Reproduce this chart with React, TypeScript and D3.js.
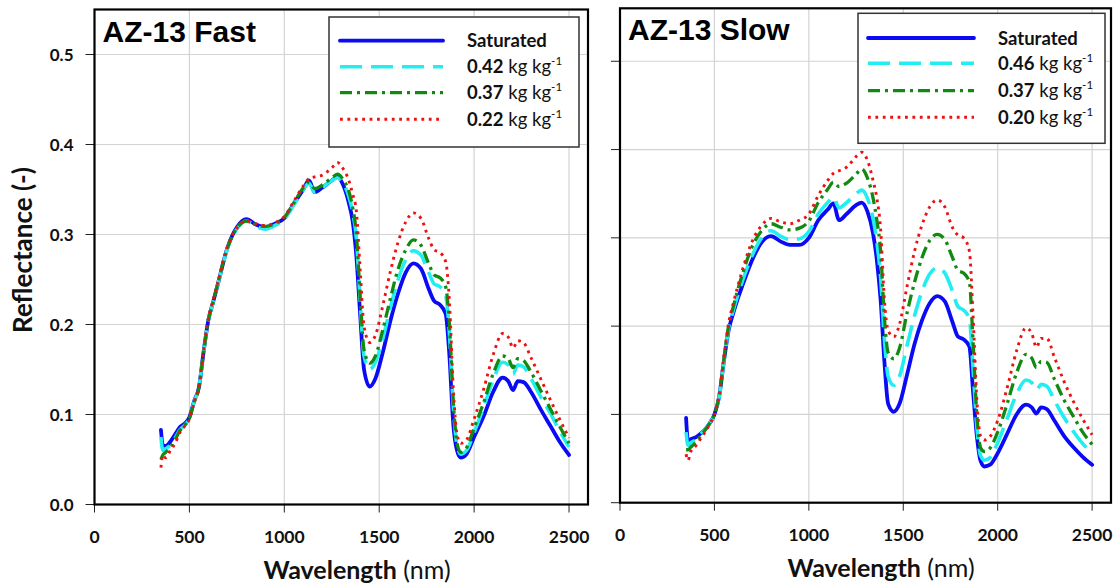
import React from "react";
import * as d3 from "d3";

const WAVELENGTHS = [350, 360, 375, 400, 425, 450, 475, 500, 525, 550, 575, 600, 625, 650, 700, 750, 800, 850, 900, 950, 1000, 1050, 1100, 1130, 1160, 1200, 1250, 1280, 1310, 1340, 1360, 1380, 1400, 1420, 1450, 1480, 1520, 1560, 1600, 1640, 1680, 1720, 1760, 1790, 1820, 1850, 1870, 1890, 1910, 1930, 1960, 2000, 2050, 2100, 2150, 2180, 2205, 2230, 2260, 2300, 2350, 2400, 2450, 2500];

const FAST_SATURATED = [0.083, 0.066, 0.065, 0.070, 0.078, 0.086, 0.090, 0.097, 0.115, 0.130, 0.170, 0.205, 0.225, 0.245, 0.285, 0.308, 0.317, 0.311, 0.308, 0.312, 0.318, 0.334, 0.350, 0.360, 0.347, 0.352, 0.360, 0.364, 0.355, 0.335, 0.315, 0.275, 0.210, 0.150, 0.131, 0.140, 0.170, 0.205, 0.235, 0.258, 0.268, 0.262, 0.240, 0.226, 0.222, 0.212, 0.165, 0.090, 0.060, 0.052, 0.056, 0.075, 0.098, 0.125, 0.141, 0.137, 0.127, 0.137, 0.136, 0.125, 0.106, 0.088, 0.070, 0.055];
const FAST_042 = [0.075, 0.060, 0.062, 0.066, 0.074, 0.083, 0.088, 0.096, 0.114, 0.130, 0.170, 0.205, 0.225, 0.245, 0.284, 0.306, 0.315, 0.309, 0.306, 0.310, 0.317, 0.333, 0.350, 0.357, 0.347, 0.352, 0.360, 0.363, 0.357, 0.342, 0.325, 0.295, 0.225, 0.165, 0.150, 0.158, 0.185, 0.220, 0.250, 0.272, 0.282, 0.277, 0.258, 0.245, 0.242, 0.232, 0.190, 0.110, 0.066, 0.056, 0.060, 0.080, 0.108, 0.138, 0.158, 0.155, 0.145, 0.155, 0.153, 0.140, 0.120, 0.102, 0.082, 0.064];
const FAST_037 = [0.050, 0.055, 0.058, 0.064, 0.072, 0.082, 0.088, 0.096, 0.114, 0.130, 0.170, 0.205, 0.225, 0.246, 0.285, 0.307, 0.315, 0.311, 0.309, 0.312, 0.319, 0.335, 0.352, 0.358, 0.351, 0.355, 0.363, 0.367, 0.361, 0.348, 0.330, 0.300, 0.230, 0.172, 0.157, 0.165, 0.195, 0.230, 0.262, 0.283, 0.294, 0.288, 0.268, 0.255, 0.252, 0.242, 0.200, 0.115, 0.068, 0.058, 0.063, 0.085, 0.113, 0.145, 0.165, 0.162, 0.152, 0.162, 0.160, 0.147, 0.127, 0.107, 0.087, 0.068];
const FAST_022 = [0.041, 0.055, 0.052, 0.060, 0.068, 0.080, 0.087, 0.095, 0.113, 0.130, 0.172, 0.207, 0.227, 0.247, 0.286, 0.307, 0.315, 0.312, 0.310, 0.313, 0.320, 0.337, 0.354, 0.362, 0.364, 0.366, 0.374, 0.380, 0.373, 0.360, 0.345, 0.325, 0.260, 0.198, 0.180, 0.188, 0.222, 0.260, 0.292, 0.314, 0.324, 0.318, 0.296, 0.283, 0.280, 0.270, 0.225, 0.130, 0.078, 0.068, 0.072, 0.095, 0.128, 0.166, 0.190, 0.186, 0.174, 0.182, 0.180, 0.163, 0.140, 0.117, 0.095, 0.074];

const SLOW_SATURATED = [0.096, 0.070, 0.072, 0.074, 0.078, 0.083, 0.090, 0.100, 0.120, 0.160, 0.195, 0.215, 0.232, 0.247, 0.275, 0.295, 0.302, 0.296, 0.292, 0.292, 0.300, 0.320, 0.332, 0.339, 0.320, 0.327, 0.337, 0.340, 0.330, 0.305, 0.275, 0.230, 0.160, 0.112, 0.103, 0.112, 0.145, 0.180, 0.207, 0.226, 0.234, 0.228, 0.205, 0.188, 0.185, 0.177, 0.125, 0.075, 0.047, 0.041, 0.043, 0.056, 0.078, 0.100, 0.111, 0.108, 0.101, 0.108, 0.106, 0.093, 0.076, 0.063, 0.052, 0.043];
const SLOW_046 = [0.080, 0.065, 0.068, 0.071, 0.077, 0.083, 0.090, 0.100, 0.120, 0.160, 0.197, 0.218, 0.236, 0.252, 0.280, 0.300, 0.308, 0.302, 0.298, 0.299, 0.307, 0.327, 0.340, 0.346, 0.334, 0.340, 0.350, 0.354, 0.345, 0.322, 0.295, 0.255, 0.185, 0.143, 0.133, 0.143, 0.178, 0.212, 0.240, 0.259, 0.266, 0.260, 0.240, 0.222, 0.218, 0.208, 0.150, 0.085, 0.053, 0.048, 0.051, 0.068, 0.095, 0.123, 0.139, 0.136, 0.128, 0.134, 0.132, 0.116, 0.097, 0.081, 0.067, 0.056];
const SLOW_037 = [0.060, 0.060, 0.063, 0.068, 0.075, 0.082, 0.090, 0.100, 0.121, 0.162, 0.200, 0.222, 0.242, 0.260, 0.290, 0.308, 0.316, 0.312, 0.309, 0.311, 0.319, 0.340, 0.355, 0.363, 0.358, 0.362, 0.372, 0.378, 0.368, 0.345, 0.320, 0.285, 0.210, 0.170, 0.163, 0.175, 0.215, 0.250, 0.278, 0.297, 0.304, 0.298, 0.278, 0.263, 0.260, 0.250, 0.180, 0.098, 0.062, 0.058, 0.062, 0.080, 0.112, 0.147, 0.168, 0.164, 0.153, 0.160, 0.159, 0.140, 0.117, 0.098, 0.080, 0.066];
const SLOW_020 = [0.055, 0.048, 0.058, 0.064, 0.072, 0.080, 0.089, 0.100, 0.122, 0.165, 0.203, 0.226, 0.246, 0.265, 0.296, 0.314, 0.322, 0.318, 0.316, 0.320, 0.327, 0.348, 0.365, 0.373, 0.376, 0.380, 0.392, 0.397, 0.388, 0.365, 0.345, 0.310, 0.230, 0.195, 0.188, 0.202, 0.245, 0.285, 0.315, 0.335, 0.343, 0.335, 0.312, 0.303, 0.300, 0.285, 0.210, 0.115, 0.075, 0.071, 0.075, 0.093, 0.130, 0.172, 0.198, 0.192, 0.176, 0.186, 0.186, 0.165, 0.138, 0.115, 0.095, 0.077];

const X_TICKS = [0, 500, 1000, 1500, 2000, 2500];
const Y_TICKS = [0, 0.1, 0.2, 0.3, 0.4, 0.5];
const FAST_LABELS = ["Saturated", "0.42", "0.37", "0.22"];
const SLOW_LABELS = ["Saturated", "0.46", "0.37", "0.20"];

const STYLES = [
  { color: "#0a0af5", width: 3.8, dash: null, cap: "round" },
  { color: "#22eef2", width: 3.6, dash: "22,9", cap: "butt" },
  { color: "#128a12", width: 3.3, dash: "12,5,3,5", cap: "butt" },
  { color: "#f01010", width: 2.9, dash: "2.8,4.6", cap: "butt" },
];

const LABEL_FONT = "Lato, 'Open Sans', sans-serif";
const TITLE_FONT = "'Liberation Sans', Arial, sans-serif";

function Panel(props) {
  const { left, right, top, bottom, yMax, title, series, labels, showYLabels, legend, xLabelCx, clipId } = props;
  const x = d3.scaleLinear().domain([0, 2600]).range([left, right]);
  const y = d3.scaleLinear().domain([0, yMax]).range([bottom, top]);
  const line = d3
    .line()
    .x((d) => x(d[0]))
    .y((d) => y(d[1]))
    .curve(d3.curveMonotoneX);

  return (
    <g>
      <defs>
        <clipPath id={clipId}>
          <rect x={left} y={top} width={right - left} height={bottom - top} />
        </clipPath>
      </defs>
      {X_TICKS.filter((t) => t > 0).map((t) => (
        <line key={"gx" + t} x1={x(t)} x2={x(t)} y1={top} y2={bottom} stroke="#d3d3d3" strokeWidth={1.2} />
      ))}
      {Y_TICKS.filter((t) => t > 0).map((t) => (
        <line key={"gy" + t} x1={left} x2={right} y1={y(t)} y2={y(t)} stroke="#d3d3d3" strokeWidth={1.2} />
      ))}
      {X_TICKS.map((t) => (
        <line key={"tx" + t} x1={x(t)} x2={x(t)} y1={bottom} y2={bottom + 8} stroke="#222" strokeWidth={1} />
      ))}
      {Y_TICKS.map((t) => (
        <line key={"ty" + t} x1={left - 9} x2={left} y1={y(t)} y2={y(t)} stroke="#222" strokeWidth={1} />
      ))}
      {X_TICKS.map((t) => (
        <text key={"lx" + t} x={x(t)} y={bottom + 38} textAnchor="middle" fontFamily={LABEL_FONT} fontWeight="bold" fontSize={17.5} fill="#111">
          {t}
        </text>
      ))}
      {showYLabels &&
        Y_TICKS.map((t) => (
          <text key={"ly" + t} x={left - 21} y={y(t) + 6} textAnchor="end" fontFamily={LABEL_FONT} fontWeight="bold" fontSize={17} fill="#111">
            {t.toFixed(1)}
          </text>
        ))}
      <g clipPath={`url(#${clipId})`}>
        {series.map((vals, i) => {
          const data = WAVELENGTHS.map((w, j) => [w, vals[j]]);
          const s = STYLES[i];
          return (
            <path
              key={"s" + i}
              d={line(data)}
              fill="none"
              stroke={s.color}
              strokeWidth={s.width}
              strokeDasharray={s.dash || undefined}
              strokeLinecap={s.cap}
              strokeLinejoin="round"
            />
          );
        })}
      </g>
      <rect x={left} y={top} width={right - left} height={bottom - top} fill="none" stroke="#000" strokeWidth={2.2} />
      <text x={left + 8} y={top + 32} fontFamily={TITLE_FONT} fontWeight="bold" fontSize={30} fill="#000">
        {title}
      </text>
      <rect x={legend.x0} y={legend.y0} width={legend.x1 - legend.x0} height={legend.y1 - legend.y0} fill="#fff" stroke="#333" strokeWidth={1.5} />
      {labels.map((lab, i) => {
        const ry = legend.rows[i];
        const s = STYLES[i];
        return (
          <g key={"lg" + i}>
            <line x1={legend.lx0} x2={legend.lx1} y1={ry} y2={ry} stroke={s.color} strokeWidth={s.width} strokeDasharray={s.dash || undefined} strokeLinecap={s.cap} />
            <text x={legend.tx} y={ry + 6.5} fontFamily={LABEL_FONT} fontSize={18.5} fill="#111">
              {i === 0 ? (
                <tspan fontWeight="bold">{lab}</tspan>
              ) : (
                <>
                  <tspan fontWeight="bold">{lab}</tspan>
                  <tspan> kg kg</tspan>
                  <tspan dy={-8} fontSize={11.5}>-1</tspan>
                </>
              )}
            </text>
          </g>
        );
      })}
      <text x={xLabelCx} y={bottom + 74} textAnchor="middle" fontFamily={LABEL_FONT} fontSize={25} fill="#111">
        <tspan fontWeight="bold">Wavelength</tspan>
        <tspan> (nm)</tspan>
      </text>
    </g>
  );
}

export default function App() {
  return (
    <svg width={1115} height={584} style={{ position: "absolute", left: 0, top: 0, background: "#fff" }}>
      <rect x={0} y={0} width={1115} height={584} fill="#fff" />
      <text
        transform="translate(32,250) rotate(-90)"
        textAnchor="middle"
        fontFamily={LABEL_FONT}
        fontWeight="bold"
        fontSize={26}
        fill="#111"
      >
        Reflectance (-)
      </text>
      <Panel
        clipId="clipFast"
        left={94.5}
        right={588}
        top={9.5}
        bottom={504.5}
        yMax={0.55}
        title="AZ-13 Fast"
        series={[FAST_SATURATED, FAST_042, FAST_037, FAST_022]}
        labels={FAST_LABELS}
        showYLabels={true}
        xLabelCx={357}
        legend={{ x0: 329, x1: 579, y0: 17, y1: 147, lx0: 340, lx1: 443, tx: 467, rows: [40.7, 66.7, 92.7, 119.3] }}
      />
      <Panel
        clipId="clipSlow"
        left={620}
        right={1111}
        top={8.3}
        bottom={502.7}
        yMax={0.56}
        title="AZ-13 Slow"
        series={[SLOW_SATURATED, SLOW_046, SLOW_037, SLOW_020]}
        labels={SLOW_LABELS}
        showYLabels={false}
        xLabelCx={881}
        legend={{ x0: 858, x1: 1105, y0: 13.3, y1: 143.3, lx0: 868, lx1: 974, tx: 998, rows: [38, 63.3, 90.7, 117.3] }}
      />
    </svg>
  );
}
